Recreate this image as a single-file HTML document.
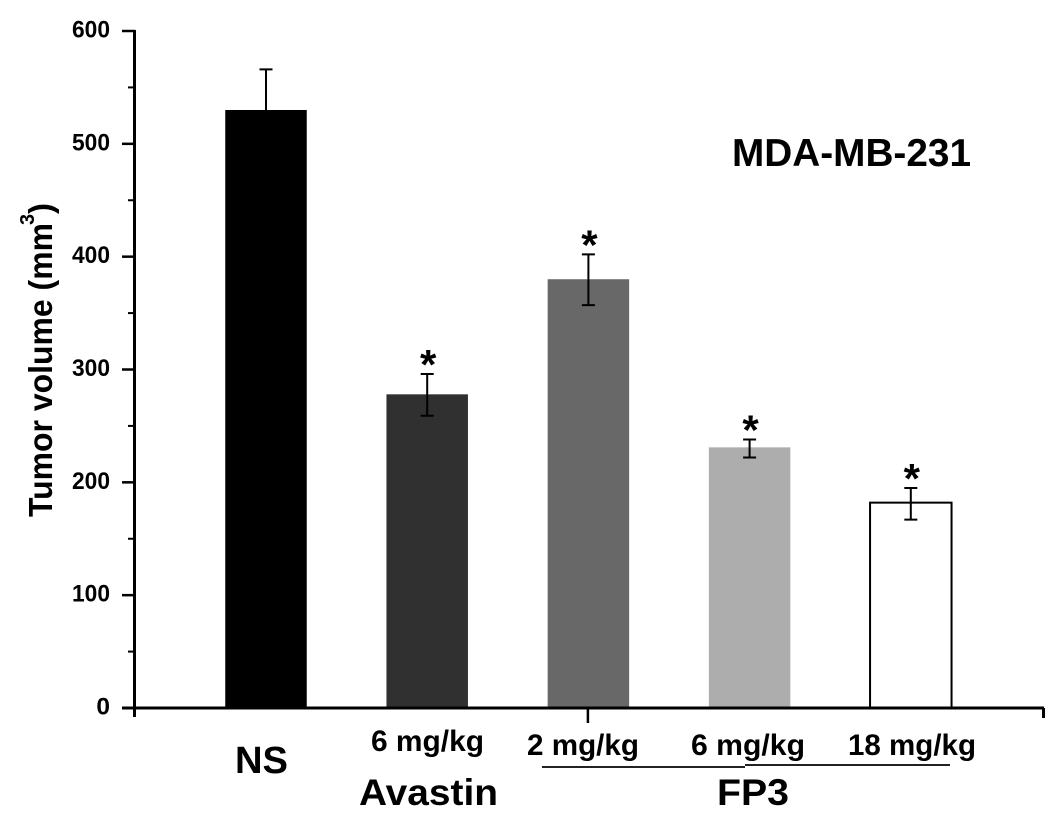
<!DOCTYPE html>
<html lang="en">
<head>
<meta charset="utf-8">
<title>Tumor volume MDA-MB-231</title>
<style>
html,body{margin:0;padding:0;background:#fff;width:1063px;height:824px;overflow:hidden}
svg{display:block;font-family:"Liberation Sans",Arial,sans-serif;font-weight:bold;fill:#000}
</style>
</head>
<body>
<svg id="chart" xmlns="http://www.w3.org/2000/svg" width="1063" height="824" viewBox="0 0 1063 824">
<rect x="0" y="0" width="1063" height="824" fill="#fff"/>
<g id="bars"></g>
<g id="axes"></g>
<text transform="translate(52,517) rotate(-90)" font-size="33" textLength="294" lengthAdjust="spacingAndGlyphs">Tumor volume (mm</text>
<text transform="translate(34,225) rotate(-90)" font-size="20">3</text>
<text transform="translate(52,214) rotate(-90)" font-size="33">)</text>
<text x="732" y="166" font-size="38.5" textLength="239" lengthAdjust="spacingAndGlyphs">MDA-MB-231</text>
<text x="235" y="773" font-size="38" textLength="53" lengthAdjust="spacingAndGlyphs">NS</text>
<text x="371" y="751" font-size="29.5" textLength="113" lengthAdjust="spacingAndGlyphs">6 mg/kg</text>
<text x="527" y="755" font-size="29.5" textLength="112" lengthAdjust="spacingAndGlyphs">2 mg/kg</text>
<text x="691" y="755" font-size="29.5" textLength="114" lengthAdjust="spacingAndGlyphs">6 mg/kg</text>
<text x="848" y="755" font-size="29.5" textLength="128" lengthAdjust="spacingAndGlyphs">18 mg/kg</text>
<text x="359" y="805" font-size="37.5" textLength="139" lengthAdjust="spacingAndGlyphs">Avastin</text>
<text x="717" y="805" font-size="37.5" textLength="72" lengthAdjust="spacingAndGlyphs">FP3</text>
<line x1="542" y1="767" x2="745" y2="767" stroke="#222" stroke-width="2"/>
<line x1="745" y1="765" x2="950" y2="765" stroke="#222" stroke-width="2"/>
</svg>
<script>
var categories = ['NS', 'Avastin 6 mg/kg', 'FP3 2 mg/kg', 'FP3 6 mg/kg', 'FP3 18 mg/kg'];
var tumorVolume = [530, 278, 380, 231, 182];
var errorUpper = [566, 296, 402, 238, 195];
var errorLower = [530, 259, 357, 222, 167];
var significant = [false, true, true, true, true];
var barColors = ['#000000', '#303030', '#686868', '#adadad', '#ffffff'];
var yTickLabels = [0, 100, 200, 300, 400, 500, 600];
var yMinorTicks = [50, 150, 250, 350, 450, 550];

var NS = 'http://www.w3.org/2000/svg';
var yZero = 708, yTop = 31, yMax = 600;
var xFirst = 266, xStep = 161.2, barWidth = 81.5;
function yScale(v) { return yZero - (v / yMax) * (yZero - yTop); }
function xScale(i) { return xFirst + i * xStep; }
function make(tag, attrs, parent) {
  var el = document.createElementNS(NS, tag);
  for (var k in attrs) { el.setAttribute(k, attrs[k]); }
  parent.appendChild(el);
  return el;
}
var barsG = document.getElementById('bars');
var axesG = document.getElementById('axes');

categories.forEach(function (c, i) {
  var cx = xScale(i);
  var top = yScale(tumorVolume[i]);
  var isOpen = barColors[i] === '#ffffff';
  var bar = make('rect', {
    x: cx - barWidth / 2, y: top, width: barWidth, height: yZero - top,
    fill: barColors[i], stroke: isOpen ? '#000' : 'none', 'stroke-width': isOpen ? 2 : 0
  }, barsG);
  
  

  var yU = yScale(errorUpper[i]);
  var yL = yScale(errorLower[i]);
  var err = make('path', {
    d: 'M' + cx + ' ' + yU + 'V' + yL +
       'M' + (cx - 6.5) + ' ' + yU + 'H' + (cx + 6.5) +
       (errorLower[i] < tumorVolume[i] ? 'M' + (cx - 6.5) + ' ' + yL + 'H' + (cx + 6.5) : ''),
    stroke: '#000', 'stroke-width': 2, fill: 'none'
  }, barsG);
  
  

  if (significant[i]) {
    var star = make('text', { x: cx + 1, y: yU + 5, 'font-size': 42, 'text-anchor': 'middle' }, barsG);
    star.textContent = '*';
    
    
  }
});

var yAxis = make('line', { x1: 134.5, y1: yTop - 1, x2: 134.5, y2: 717, stroke: '#000', 'stroke-width': 3 }, axesG);


var xAxis = make('line', { x1: 122, y1: yZero, x2: 1044, y2: yZero, stroke: '#000', 'stroke-width': 3 }, axesG);



yTickLabels.forEach(function (v) {
  var y = yScale(v);
  var t = make('line', { x1: 122, y1: y, x2: 135, y2: y, stroke: '#000', 'stroke-width': 2.5 }, axesG);
  
  
  var l = make('text', { x: 110, y: y + 6.5, 'font-size': 24.5, 'text-anchor': 'end' }, axesG);
  if (String(v).length === 3) {
    l.setAttribute('textLength', 38);
    l.setAttribute('lengthAdjust', 'spacingAndGlyphs');
  }
  l.textContent = v;
  
  
});
yMinorTicks.forEach(function (v) {
  var y = yScale(v);
  var t = make('line', { x1: 128, y1: y, x2: 135, y2: y, stroke: '#000', 'stroke-width': 2 }, axesG);
  
  
});

var midTick = make('line', { x1: xScale(2) - 0.5, y1: yZero, x2: xScale(2) - 0.5, y2: 723, stroke: '#000', 'stroke-width': 2.5 }, axesG);


var endTick = make('line', { x1: 1043.5, y1: yZero, x2: 1043.5, y2: 718, stroke: '#000', 'stroke-width': 3 }, axesG);


</script>
</body>
</html>
